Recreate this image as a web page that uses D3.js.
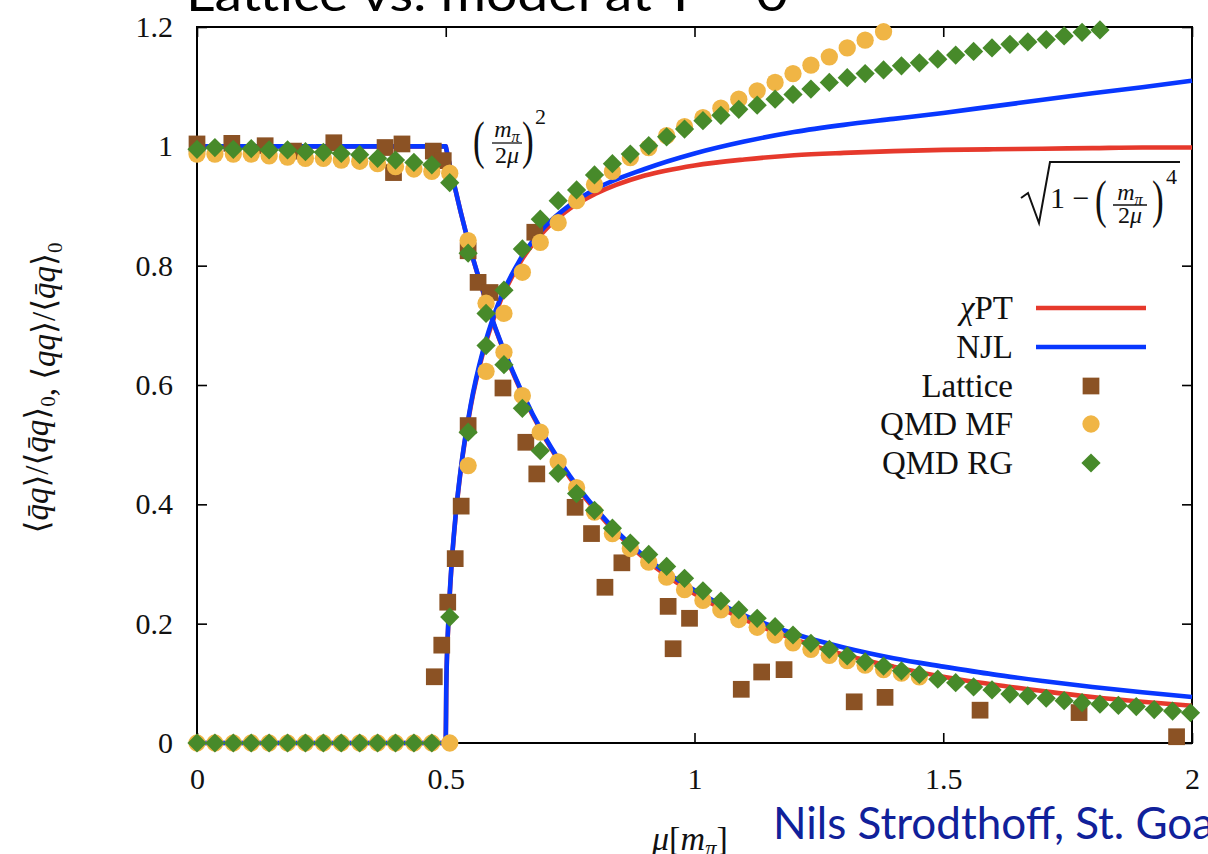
<!DOCTYPE html>
<html><head><meta charset="utf-8">
<script src="https://cdn.jsdelivr.net/npm/d3@7"></script>
<style>
html,body{margin:0;padding:0;background:#fff;}
svg{display:block;}
text{font-family:"Liberation Serif","DejaVu Serif",serif;}
</style></head>
<body><svg id="c" width="1208" height="854"></svg>
<script>
// ---------- data ----------
const xTicks = [0, 0.5, 1, 1.5, 2];
const xTickLabels = ["0", "0.5", "1", "1.5", "2"];
const yTicks = [0, 0.2, 0.4, 0.6, 0.8, 1, 1.2];
const yTickLabels = ["0", "0.2", "0.4", "0.6", "0.8", "1", "1.2"];

// theory curves, sampled mu grid
const curveMu = [0.5, 0.501, 0.505, 0.51, 0.52, 0.53, 0.55, 0.575, 0.6, 0.65, 0.7, 0.75, 0.8, 0.9, 1.0, 1.1, 1.2, 1.3, 1.4, 1.5, 1.6, 1.7, 1.8, 1.9, 2.0];
const chptLower = [1, 0.996, 0.980, 0.961, 0.925, 0.890, 0.826, 0.756, 0.694, 0.592, 0.510, 0.444, 0.391, 0.309, 0.250, 0.207, 0.174, 0.148, 0.128, 0.111, 0.098, 0.087, 0.077, 0.069, 0.0625];
const chptUpper = [0, 0.089, 0.197, 0.276, 0.381, 0.456, 0.563, 0.654, 0.720, 0.806, 0.860, 0.896, 0.920, 0.951, 0.968, 0.978, 0.985, 0.989, 0.992, 0.994, 0.995, 0.996, 0.997, 0.998, 0.998];
const njlLower = [1, 0.996, 0.980, 0.961, 0.925, 0.890, 0.826, 0.757, 0.695, 0.594, 0.512, 0.447, 0.394, 0.312, 0.256, 0.214, 0.183, 0.160, 0.142, 0.128, 0.115, 0.104, 0.094, 0.085, 0.077];
const njlUpper = [0, 0.09, 0.20, 0.278, 0.383, 0.458, 0.566, 0.658, 0.724, 0.811, 0.866, 0.902, 0.928, 0.962, 0.988, 1.008, 1.024, 1.036, 1.046, 1.056, 1.067, 1.078, 1.089, 1.099, 1.110];
const flatMu = [0, 0.5];

// QMD grid
const qmdMu = [0, 0.036, 0.073, 0.109, 0.145, 0.182, 0.218, 0.254, 0.290, 0.327, 0.363, 0.399, 0.436, 0.472, 0.508, 0.545, 0.581, 0.617, 0.654, 0.690, 0.726, 0.763, 0.799, 0.835, 0.871, 0.908, 0.944, 0.980, 1.017, 1.053, 1.089, 1.126, 1.162, 1.198, 1.234, 1.271, 1.307, 1.343, 1.380, 1.416, 1.452, 1.489, 1.525, 1.561, 1.598, 1.634, 1.670, 1.707, 1.743, 1.779, 1.815, 1.852, 1.888, 1.924, 1.961, 1.997];
const rgLower = [0.995, 0.998, 0.995, 0.996, 0.994, 0.994, 0.991, 0.990, 0.988, 0.986, 0.980, 0.977, 0.973, 0.969, 0.939, 0.821, 0.720, 0.634, 0.561, 0.490, 0.452, 0.418, 0.390, 0.360, 0.335, 0.316, 0.296, 0.276, 0.255, 0.238, 0.223, 0.209, 0.195, 0.181, 0.167, 0.157, 0.146, 0.136, 0.129, 0.121, 0.115, 0.107, 0.101, 0.094, 0.089, 0.082, 0.079, 0.075, 0.071, 0.0675, 0.065, 0.063, 0.061, 0.056, 0.0536, 0.0507];
const rgUpper = [0, 0, 0, 0, 0, 0, 0, 0, 0, 0, 0, 0, 0, 0, 0.211, 0.521, 0.666, 0.759, 0.828, 0.878, 0.909, 0.927, 0.952, 0.971, 0.987, 1.001, 1.016, 1.029, 1.043, 1.052, 1.062, 1.069, 1.079, 1.087, 1.096, 1.107, 1.115, 1.122, 1.128, 1.135, 1.140, 1.146, 1.153, 1.159, 1.165, 1.171, 1.175, 1.179, 1.185, 1.191, 1.195];
const mfLower = [0.987, 0.987, 0.987, 0.987, 0.984, 0.982, 0.980, 0.980, 0.977, 0.975, 0.971, 0.966, 0.962, 0.958, 0.955, 0.842, 0.737, 0.655, 0.582, 0.521, 0.471, 0.428, 0.387, 0.351, 0.326, 0.303, 0.278, 0.257, 0.239, 0.223, 0.207, 0.194, 0.181, 0.168, 0.157, 0.147, 0.138, 0.1305, 0.123, 0.117, 0.111];
const mfUpper = [0, 0, 0, 0, 0, 0, 0, 0, 0, 0, 0, 0, 0, 0, 0, 0.465, 0.623, 0.720, 0.789, 0.839, 0.872, 0.909, 0.936, 0.958, 0.981, 0.998, 1.018, 1.033, 1.048, 1.064, 1.079, 1.093, 1.107, 1.122, 1.136, 1.150, 1.165, 1.178, 1.192];

// lattice
const latMu = [0, 0.070, 0.137, 0.194, 0.275, 0.378, 0.395, 0.412, 0.475, 0.495, 0.477, 0.492, 0.504, 0.519, 0.531, 0.545, 0.545, 0.565, 0.589, 0.615, 0.661, 0.679, 0.683, 0.760, 0.793, 0.820, 0.854, 0.947, 0.957, 0.990, 1.094, 1.135, 1.180, 1.321, 1.383, 1.574, 1.773, 1.969];
const latVal = [1.004, 1.005, 1.001, 0.992, 1.006, 0.998, 0.956, 1.004, 0.992, 0.976, 0.111, 0.164, 0.236, 0.309, 0.397, 0.532, 0.825, 0.772, 0.755, 0.595, 0.504, 0.856, 0.451, 0.395, 0.351, 0.261, 0.302, 0.229, 0.158, 0.209, 0.090, 0.119, 0.123, 0.069, 0.0765, 0.055, 0.051, 0.0105];

const legendNames = ["\u03c7PT", "NJL", "Lattice", "QMD MF", "QMD RG"];
const colors = {chpt: "#e6392c", njl: "#0837ff", lat: "#8b5224", mf: "#f0b545", rg: "#478a2a"};

// ---------- drawing ----------
const svg = d3.select("#c");
const x = d3.scaleLinear().domain([0, 2]).range([197, 1192]);
const y = d3.scaleLinear().domain([0, 1.2]).range([743, 27]);
const ink = "#111";

// title (clipped at top)
svg.append("text").attr("x", 186).attr("y", 11)
  .attr("font-size", 48).attr("fill", "#000")
  .attr("textLength", 602).attr("lengthAdjust", "spacingAndGlyphs")
  .style("font-family", "Lato, 'Open Sans', sans-serif")
  .text("Lattice vs. model at T = 0");

// axes
const gx = svg.append("g").attr("transform", `translate(0,${y(0)})`)
  .call(d3.axisBottom(x).tickValues(xTicks).tickFormat((d, i) => xTickLabels[i]).tickSize(-10).tickPadding(25));
const gxt = svg.append("g").attr("transform", `translate(0,${y(1.2)})`)
  .call(d3.axisTop(x).tickValues(xTicks).tickFormat("").tickSize(-10));
const gy = svg.append("g").attr("transform", `translate(${x(0)},0)`)
  .call(d3.axisLeft(y).tickValues(yTicks).tickFormat((d, i) => yTickLabels[i]).tickSize(-10).tickPadding(24));
const gyr = svg.append("g").attr("transform", `translate(${x(2)},0)`)
  .call(d3.axisRight(y).tickValues(yTicks).tickFormat("").tickSize(-10));
[gx, gxt, gy, gyr].forEach(g => {
  g.select(".domain").remove();
  g.selectAll(".tick line").attr("stroke", "#000").attr("stroke-width", 1.6);
  g.selectAll(".tick text").attr("font-size", 30).attr("fill", ink)
    .style("font-family", "'Liberation Serif', serif");
});
svg.append("rect").attr("x", x(0)).attr("y", y(1.2)).attr("width", x(2) - x(0)).attr("height", y(0) - y(1.2))
  .attr("fill", "none").attr("stroke", "#000").attr("stroke-width", 2);

// curves
const line = d3.line().x(d => x(d[0])).y(d => y(d[1])).curve(d3.curveMonotoneX);
function drawCurve(lower, upper, col) {
  const low = flatMu.map(m => [m, 1]).concat(curveMu.map((m, i) => [m, lower[i]]).slice(1));
  const up = flatMu.map(m => [m, 0]).concat(curveMu.map((m, i) => [m, upper[i]]).slice(1));
  [low, up].forEach(pts => svg.append("path").attr("d", line(pts)).attr("fill", "none")
    .attr("stroke", col).attr("stroke-width", 4.6).attr("stroke-linejoin", "round"));
}
drawCurve(chptLower, chptUpper, colors.chpt);
drawCurve(njlLower, njlUpper, colors.njl);

// markers
const sq = d3.symbol().type(d3.symbolSquare).size(280)();
const ci = d3.symbol().type(d3.symbolCircle).size(235)();
const di = d3.symbol().type(d3.symbolSquare).size(185)();
function marks(mus, vals, path, col, rot) {
  svg.append("g").selectAll("path").data(vals).join("path")
    .attr("d", path).attr("fill", col)
    .attr("transform", (d, i) => `translate(${x(mus[i])},${y(d)})` + (rot ? " rotate(45)" : ""));
}
marks(latMu, latVal, sq, colors.lat, false);
marks(qmdMu, mfLower, ci, colors.mf, false);
marks(qmdMu, mfUpper, ci, colors.mf, false);
marks(qmdMu, rgLower, di, colors.rg, true);
marks(qmdMu, rgUpper, di, colors.rg, true);

// legend
const legY = [308, 347, 386, 424, 463];
const lg = svg.append("g");
legendNames.forEach((name, i) => {
  const t = lg.append("text").attr("x", 1013).attr("y", legY[i] + 11).attr("text-anchor", "end")
    .attr("font-size", 33).attr("fill", ink);
  if (i === 0) { t.append("tspan").attr("font-style", "italic").text("\u03c7"); t.append("tspan").text("PT"); }
  else t.text(name);
});
lg.append("line").attr("x1", 1036).attr("x2", 1146).attr("y1", legY[0]).attr("y2", legY[0]).attr("stroke", colors.chpt).attr("stroke-width", 4.6);
lg.append("line").attr("x1", 1036).attr("x2", 1146).attr("y1", legY[1]).attr("y2", legY[1]).attr("stroke", colors.njl).attr("stroke-width", 4.6);
lg.append("path").attr("d", sq).attr("fill", colors.lat).attr("transform", `translate(1091,${legY[2]})`);
lg.append("path").attr("d", ci).attr("fill", colors.mf).attr("transform", `translate(1091,${legY[3]})`);
lg.append("path").attr("d", di).attr("fill", colors.rg).attr("transform", `translate(1091,${legY[4]}) rotate(45)`);

// fraction helper m_pi / 2 mu
function frac(g, cx, yNum, yLine, yDen, w, fs) {
  const n = g.append("text").attr("x", cx).attr("y", yNum).attr("text-anchor", "middle").attr("font-size", fs).attr("fill", ink);
  n.append("tspan").attr("font-style", "italic").text("m");
  n.append("tspan").attr("font-style", "italic").attr("font-size", fs * 0.68).attr("dy", fs * 0.2).text("\u03c0");
  g.append("line").attr("x1", cx - w / 2).attr("x2", cx + w / 2).attr("y1", yLine).attr("y2", yLine).attr("stroke", ink).attr("stroke-width", 1.3);
  const d = g.append("text").attr("x", cx).attr("y", yDen).attr("text-anchor", "middle").attr("font-size", fs).attr("fill", ink);
  d.append("tspan").text("2");
  d.append("tspan").attr("font-style", "italic").text("\u03bc");
}
function paren(g, ch, px, py, fs) {
  g.append("text").attr("x", 0).attr("y", 0).attr("font-size", fs).attr("fill", ink)
    .attr("transform", `translate(${px},${py}) scale(0.8,1.2)`).text(ch);
}

// annotation (m_pi / 2mu)^2
const a1 = svg.append("g");
paren(a1, "(", 473, 158, 44);
frac(a1, 507, 137, 143, 163, 30, 24);
paren(a1, ")", 522, 158, 44);
a1.append("text").attr("x", 535).attr("y", 124).attr("font-size", 22).attr("fill", ink).text("2");

// annotation sqrt(1 - (m_pi/2mu)^4)
const a2 = svg.append("g");
a2.append("path").attr("d", "M1021,198 L1028,193 L1039,223 L1050,162 L1180,162")
  .attr("fill", "none").attr("stroke", ink).attr("stroke-width", 2).attr("stroke-linejoin", "miter");
a2.append("text").attr("x", 1050).attr("y", 208).attr("font-size", 30).attr("fill", ink).text("1 \u2212");
paren(a2, "(", 1095, 217, 44);
frac(a2, 1130, 200, 205, 223, 34, 24);
paren(a2, ")", 1152, 217, 44);
a2.append("text").attr("x", 1166).attr("y", 184).attr("font-size", 22).attr("fill", ink).text("4");

// y axis title
const yt = svg.append("text").attr("transform", "translate(48,388) rotate(-90)").attr("text-anchor", "middle")
  .attr("font-size", 33).attr("fill", ink);
function br(t, s, it) { t.append("tspan").attr("font-style", it ? "italic" : null).text(s); }
function sub0(t) { t.append("tspan").attr("font-size", 21).attr("dy", 7).text("0"); t.append("tspan").attr("dy", -7).text(""); }
br(yt, "\u27e8"); br(yt, "q\u0304q", true); br(yt, "\u27e9/\u27e8"); br(yt, "q\u0304q", true); br(yt, "\u27e9"); sub0(yt);
br(yt, ", \u27e8"); br(yt, "qq", true); br(yt, "\u27e9/\u27e8"); br(yt, "q\u0304q", true); br(yt, "\u27e9"); sub0(yt);

// x axis title
const xt = svg.append("text").attr("x", 652).attr("y", 850).attr("font-size", 34).attr("fill", ink);
xt.append("tspan").attr("font-style", "italic").text("\u03bc");
xt.append("tspan").text("[");
xt.append("tspan").attr("font-style", "italic").text("m");
xt.append("tspan").attr("font-style", "italic").attr("font-size", 23).attr("dy", 6).text("\u03c0");
xt.append("tspan").attr("dy", -6).text("]");

// footer
svg.append("text").attr("x", 773).attr("y", 839).attr("font-size", 44).attr("fill", "#10219a")
  .style("font-family", "Lato, 'Open Sans', sans-serif").text("Nils Strodthoff, St. Goar");
</script></body></html>
